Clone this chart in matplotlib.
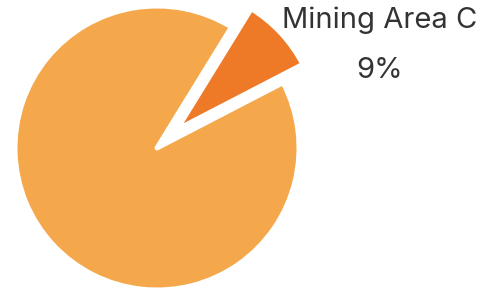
import matplotlib
matplotlib.use("Agg")
import matplotlib.pyplot as plt

labels = ["Mining Area C", "Other"]
shares = [8.6, 91.4]
colors = ["#EE7A28", "#F5A84B"]
shown = ["Mining Area C"]

plt.rcParams['font.family'] = ['Inter', 'DejaVu Sans']

fig = plt.figure(figsize=(4.79, 2.89), dpi=100)
ax = fig.add_axes([0, 0, 1, 1])

ax.pie(shares, explode=[27, 0], center=(157, 141), radius=142,
       startangle=27.4, colors=colors,
       wedgeprops=dict(edgecolor="white", linewidth=3.6, joinstyle="round"))

total = sum(shares)
for name, val in zip(labels, shares):
    if name in shown:
        ax.text(380, 269, name, ha="center", va="center", fontsize=21, color="#333333")
        ax.text(380, 218, "%.0f%%" % (val / total * 100), ha="center", va="center",
                fontsize=21, color="#333333")

ax.set_xlim(0, 479)
ax.set_ylim(0, 289)
ax.axis("off")
fig.savefig("out.png", dpi=100)
